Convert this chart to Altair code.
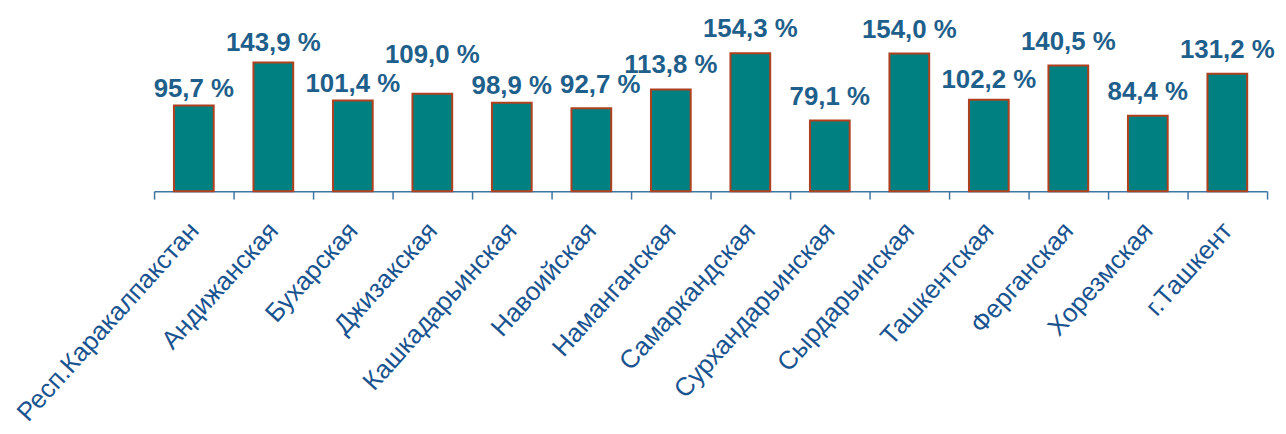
import altair as alt
import pandas as pd

regions = ["Респ.Каракалпакстан", "Андижанская", "Бухарская", "Джизакская",
           "Кашкадарьинская", "Навоийская", "Наманганская", "Самаркандская",
           "Сурхандарьинская", "Сырдарьинская", "Ташкентская", "Ферганская",
           "Хорезмская", "г.Ташкент"]
values = [95.7, 143.9, 101.4, 109.0, 98.9, 92.7, 113.8, 154.3, 79.1, 154.0,
          102.2, 140.5, 84.4, 131.2]
labels = [f"{v:.1f} %".replace(".", ",") for v in values]

# label groups as placed in the original (label distance above the bar)
near_labels = ["Респ.Каракалпакстан", "Бухарская", "Кашкадарьинская"]
mid_labels = ["Андижанская", "Ташкентская"]
high_labels = ["Джизакская"]
shifted_labels = ["Навоийская"]

df = pd.DataFrame({"region": regions, "value": values, "label": labels})

x = alt.X("region:N", sort=regions, title=None,
          scale=alt.Scale(paddingInner=0, paddingOuter=0),
          axis=alt.Axis(labelAngle=-48, labelAlign="right", labelBaseline="middle",
                        labelFont="Liberation Sans", labelFontSize=26, labelLimit=0,
                        labelColor="#1A5490", labelPadding=27,
                        tickBand="extent", tickSize=8, tickColor="#3F77A3",
                        tickWidth=1.5, domainColor="#3F77A3", domainWidth=1.5))
y = alt.Y("value:Q", scale=alt.Scale(domain=[0, 190], nice=False), axis=None)

bars = alt.Chart(df).mark_bar(color="#008080", stroke="#B0401E", strokeWidth=2,
                              width=alt.RelativeBandSize(0.5)).encode(x=x, y=y)


def text_layer(names, dy, dx=0):
    return alt.Chart(df).transform_filter(
        alt.FieldOneOfPredicate(field="region", oneOf=names)).mark_text(
        font="Liberation Sans", fontSize=26, fontWeight="bold",
        color="#1F5F8B", baseline="alphabetic", dy=dy, dx=dx).encode(
        x=alt.X("region:N", sort=regions), y="value:Q", text="label:N")


grouped = near_labels + mid_labels + high_labels + shifted_labels
others = [r for r in regions if r not in grouped]
t1 = text_layer(near_labels, -9)
t2 = text_layer(mid_labels, -12)
t3 = text_layer(high_labels, -31)
t4 = text_layer(shifted_labels, -15, 9)
t5 = text_layer(others, -16)

chart = alt.layer(bars, t1, t2, t3, t4, t5).properties(
    width=1120, height=171,
    background="white",
    autosize=alt.AutoSizeParams(type="none"),
    padding={"left": 147, "top": 12, "right": 11, "bottom": 235},
).configure_view(stroke="transparent", strokeWidth=0)

chart.save("out.html", embed_options={"renderer": "svg", "actions": False})
